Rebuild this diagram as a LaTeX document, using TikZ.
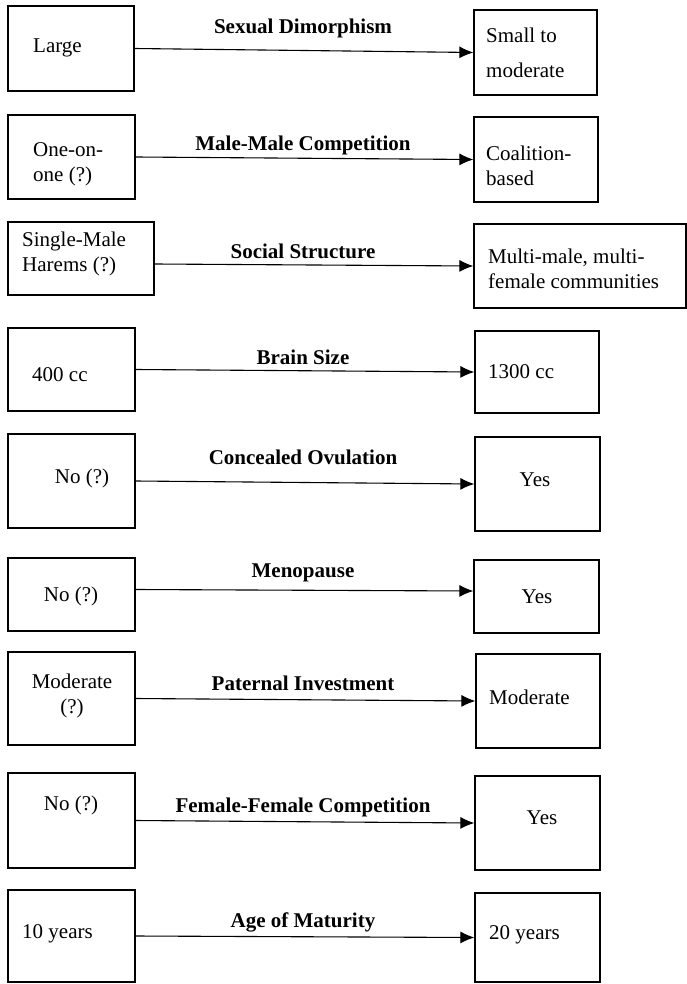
\documentclass[tikz,border=0pt]{standalone}
\usepackage{fontspec}
\setmainfont{Liberation Serif}
\usetikzlibrary{arrows.meta}

\begin{document}
\begin{tikzpicture}[%
      x=1pt, y=-1pt,
      rbox/.style={draw, line width=1.2pt, inner sep=0pt},
      txt/.style={inner sep=0pt, font=\fontsize{21}{25}\selectfont},
      lbl/.style={inner sep=0pt, font=\fontsize{21}{25}\selectfont\bfseries},
      arr/.style={line width=1.1pt, -{Latex[length=14pt,width=12pt]}},
      ]
      \useasboundingbox (0,0) rectangle (686,984);

      % sexual dimorphism
      \node [rbox, minimum width=126, minimum height=85] (L1) at (71,48.5) {};
      \node [rbox, minimum width=123, minimum height=85] (R1) at (535.5,52.5) {};
      \node [txt, anchor=west] (tL1) at (33,48) {Large};
      \node [txt, anchor=west, align=left] (tR1) at (486,52.5) {Small to\\[10pt]moderate};
      \draw [arr] (L1.east) -- (R1.west);
      \node [lbl] (s1) at (303,28) {Sexual Dimorphism};

      % male-male competition
      \node [rbox, minimum width=127, minimum height=84] (L2) at (71.5,157) {};
      \node [rbox, minimum width=124, minimum height=85] (R2) at (536,159.5) {};
      \node [txt, anchor=west, align=left] (tL2) at (33,164.5) {One-on-\\one (?)};
      \node [txt, anchor=west, align=left] (tR2) at (486,165.5) {Coalition-\\based};
      \draw [arr] (L2.east) -- (R2.west);
      \node [lbl] (s2) at (303,145) {Male-Male Competition};

      % social structure
      \node [rbox, minimum width=146, minimum height=73] (L3) at (81,258.5) {};
      \node [rbox, minimum width=212, minimum height=84] (R3) at (580,266) {};
      \node [txt, anchor=west, align=left] (tL3) at (22,253.5) {Single-Male\\Harems (?)};
      \node [txt, anchor=west, align=left] (tR3) at (488,268.5) {Multi-male, multi-\\female communities};
      \draw [arr] ([yshift=-5.5pt]L3.east) -- (R3.west);
      \node [lbl] (s3) at (303,251) {Social Structure};

      % brain size
      \node [rbox, minimum width=127, minimum height=83] (L4) at (71.5,369.5) {};
      \node [rbox, minimum width=124, minimum height=82] (R4) at (537,372) {};
      \node [txt, anchor=west] (tL4) at (32,375) {400 cc};
      \node [txt, anchor=west] (tR4) at (488,372) {1300 cc};
      \draw [arr] (L4.east) -- (R4.west);
      \node [lbl] (s4) at (303,357) {Brain Size};

      % concealed ovulation
      \node [rbox, minimum width=127, minimum height=94] (L5) at (71.5,481) {};
      \node [rbox, minimum width=125, minimum height=94] (R5) at (537.5,484) {};
      \node [txt] (tL5) at (82,478) {No (?)};
      \node [txt] (tR5) at (535,480) {Yes};
      \draw [arr] (L5.east) -- (R5.west);
      \node [lbl] (s5) at (303,457) {Concealed Ovulation};

      % menopause
      \node [rbox, minimum width=127, minimum height=73] (L6) at (71.5,594.5) {};
      \node [rbox, minimum width=125, minimum height=73] (R6) at (536.5,596.5) {};
      \node [txt] (tL6) at (71,596) {No (?)};
      \node [txt] (tR6) at (537,597) {Yes};
      \draw [arr] ([yshift=5pt]L6.east) -- ([yshift=5.5pt]R6.west);
      \node [lbl] (s6) at (303,573) {Menopause};

      % paternal investment
      \node [rbox, minimum width=127, minimum height=93] (L7) at (71.5,698.5) {};
      \node [rbox, minimum width=124, minimum height=94] (R7) at (538,701) {};
      \node [txt, align=center] (tL7) at (72,695.5) {Moderate\\(?)};
      \node [txt, anchor=west] (tR7) at (489,697) {Moderate};
      \draw [arr] (L7.east) -- (R7.west);
      \node [lbl] (s7) at (303,683) {Paternal Investment};

      % female-female competition
      \node [rbox, minimum width=127, minimum height=95] (L8) at (71.5,820.5) {};
      \node [rbox, minimum width=125, minimum height=94] (R8) at (537.5,823) {};
      \node [txt] (tL8) at (71,805) {No (?)};
      \node [txt] (tR8) at (542,818) {Yes};
      \draw [arr] (L8.east) -- (R8.west);
      \node [lbl] (s8) at (303,807) {Female-Female Competition};

      % age of maturity
      \node [rbox, minimum width=127, minimum height=92] (L9) at (71.5,936) {};
      \node [rbox, minimum width=125, minimum height=89] (R9) at (537.5,937.5) {};
      \node [txt, anchor=west] (tL9) at (22,934) {10 years};
      \node [txt, anchor=west] (tR9) at (489,935) {20 years};
      \draw [arr] (L9.east) -- (R9.west);
      \node [lbl] (s9) at (303,922) {Age of Maturity};
      \end{tikzpicture}
\end{document}
